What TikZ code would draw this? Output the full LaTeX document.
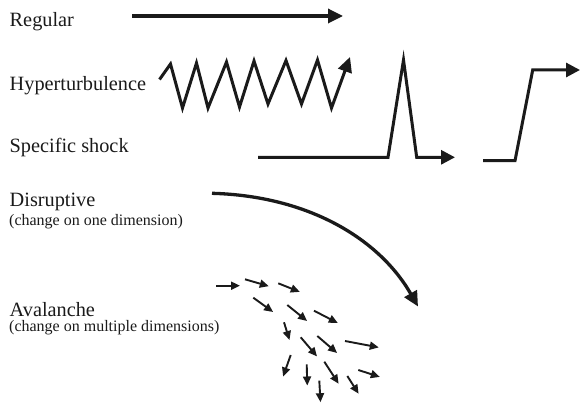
\documentclass[tikz,border=0pt]{standalone}
\usepackage{fontspec}
\setmainfont{Liberation Serif}
\usetikzlibrary{arrows.meta}
\definecolor{ink}{HTML}{1A1A1A}
\begin{document}
\begin{tikzpicture}[x=1pt,y=-1pt,
  lbl/.style={anchor=base west,inner sep=0pt,text=ink,font=\fontsize{20.3}{23}\selectfont},
  sub/.style={anchor=base west,inner sep=0pt,text=ink,font=\fontsize{16}{18}\selectfont},
  bigline/.style={draw=ink,line width=3.3pt,miter limit=10,-{Triangle[length=15pt,width=14pt]}},
  smallarr/.style={draw=ink,line width=1.9pt,-{Triangle[length=9pt,width=8pt]}}]
\useasboundingbox (0,0) rectangle (580,403);
% labels
\node[lbl] (tReg) at (9.5,26.3) {Regular};
\node[lbl] (tHyp) at (9.5,90.5) {Hyperturbulence};
\node[lbl] (tSpec) at (9.5,152.5) {Specific shock};
\node[lbl] (tDis) at (9.5,206.5) {Disruptive};
\node[sub] (tDis2) at (9,225.5) {(change on one dimension)};
\node[lbl] (tAva) at (9.5,316.5) {Avalanche};
\node[sub] (tAva2) at (9,331.5) {(change on multiple dimensions)};
% regular
\coordinate (r1) at (132,16);
\coordinate (r2) at (343,16);
\draw[bigline] (r1) -- (r2);
% hyperturbulence zigzag
\draw[bigline,line width=3pt] (159.5,79.5) -- (170.5,64) -- (182.5,108) -- (196.5,63) -- (208,108)
  -- (226.5,62) -- (239.5,107) -- (254,61) -- (268,104) -- (286,60.5) -- (301.5,104)
  -- (317.5,60) -- (331.5,108) -- (350,57);
% specific shock
\draw[bigline,line width=3pt,-{Triangle[length=14pt,width=14pt]}]
  (258,157.3) -- (388,157.3) -- (403.5,60) -- (416.7,157.3) -- (455,157.3);
% step
\draw[bigline,line width=3pt,-{Triangle[length=14pt,width=14pt]}]
  (483,160.7) -- (515,160.7) -- (532.7,70) -- (580,70);
% disruptive
\draw[bigline] (212,193.3) .. controls (310,196) and (380,240) .. (418,306.5);
% avalanche
\draw[smallarr] (216,285.7) -- (240,285.7);
\draw[smallarr] (245,279.3) -- (268.8,286.2);
\draw[smallarr] (278.3,283.3) -- (299.8,291.9);
\draw[smallarr] (253.3,297.7) -- (273.1,312);
\draw[smallarr] (287.3,305) -- (307.1,321);
\draw[smallarr] (314,310.7) -- (337.8,323);
\draw[smallarr] (284,322.3) -- (289.5,340);
\draw[smallarr] (300.7,337.3) -- (317,356.4);
\draw[smallarr] (317.3,336) -- (337.1,353);
\draw[smallarr] (345,341) -- (378.8,347.4);
\draw[smallarr] (290.7,355) -- (283.1,376.5);
\draw[smallarr] (306.7,364.3) -- (307.3,385.5);
\draw[smallarr] (324.3,361.7) -- (338.6,383.7);
\draw[smallarr] (358.3,370) -- (379.8,376.9);
\draw[smallarr] (347.3,376) -- (358.6,393.7);
\draw[smallarr] (319.3,380.7) -- (320.5,402.2);
\end{tikzpicture}
\end{document}
